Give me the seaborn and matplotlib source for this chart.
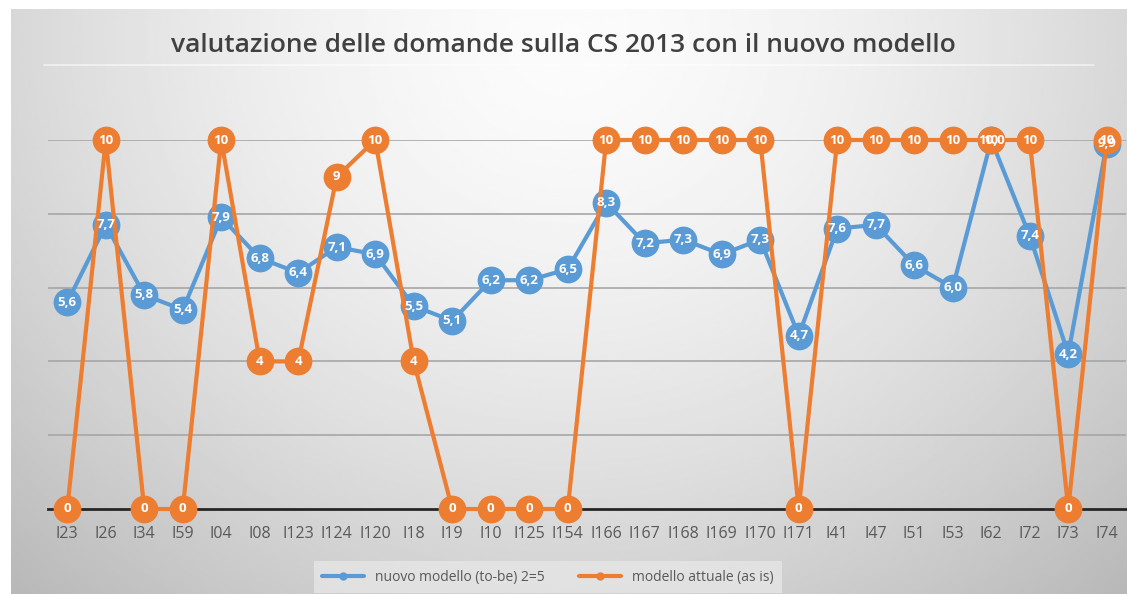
import numpy as np
import pandas as pd
import matplotlib
matplotlib.use("Agg")
import matplotlib.pyplot as plt
import seaborn as sns

categories = ["I23", "I26", "I34", "I59", "I04", "I08", "I123", "I124", "I120", "I18",
              "I19", "I10", "I125", "I154", "I166", "I167", "I168", "I169", "I170", "I171",
              "I41", "I47", "I51", "I53", "I62", "I72", "I73", "I74"]
nuovo = [5.6, 7.7, 5.8, 5.4, 7.9, 6.8, 6.4, 7.1, 6.9, 5.5,
         5.1, 6.2, 6.2, 6.5, 8.3, 7.2, 7.3, 6.9, 7.3, 4.7,
         7.6, 7.7, 6.6, 6.0, 10.0, 7.4, 4.2, 9.9]
attuale = [0, 10, 0, 0, 10, 4, 4, 9, 10, 4,
           0, 0, 0, 0, 10, 10, 10, 10, 10, 0,
           10, 10, 10, 10, 10, 10, 0, 10]

label_nuovo = "nuovo modello (to-be) 2=5"
label_attuale = "modello attuale (as is)"
title = "valutazione delle domande sulla CS 2013 con il nuovo modello"

blue = "#5B9BD5"
orange = "#ED7D31"
grey_text = "#595959"

sns.set_style("white")
plt.rcParams["font.family"] = ["Open Sans", "DejaVu Sans"]

df = pd.DataFrame({"cat": categories * 2,
                   "val": nuovo + attuale,
                   "serie": [label_nuovo] * len(categories) + [label_attuale] * len(categories)})

W, H = 1127, 594
fig = plt.figure(figsize=(W / 100, H / 100), dpi=100)
fig.patch.set_facecolor("white")

# gradient panel background
bg = fig.add_axes([11 / W, 0, 1 - 11 / W, (H - 9) / H])
gy, gx = np.mgrid[0:1:300j, 0:1:600j]
r = np.sqrt(((gx - 0.5) / 0.75) ** 2 + ((gy - 0.05) / 1.3) ** 2)
grad = 0.985 - 0.27 * np.clip(r, 0, 1) ** 1.6
bg.imshow(grad, cmap="gray", vmin=0, vmax=1, aspect="auto", extent=[0, 1, 0, 1], origin="upper")
bg.axhline(0.905, xmin=0.03, xmax=0.97, color="white", lw=1.2, alpha=0.6)
bg.set_axis_off()

ax = fig.add_axes([48 / W, (H - 509) / H, 1078 / W, 369 / H])
ax.patch.set_alpha(0)

sns.lineplot(data=df[df.serie == label_nuovo], x="cat", y="val", ax=ax, color=blue,
             lw=3, marker="o", markersize=20, markeredgewidth=0, sort=False,
             label=label_nuovo, clip_on=False, zorder=3)
sns.lineplot(data=df[df.serie == label_attuale], x="cat", y="val", ax=ax, color=orange,
             lw=3, marker="o", markersize=20, markeredgewidth=0, sort=False,
             label=label_attuale, clip_on=False, zorder=4)

for i, v in enumerate(nuovo):
    ax.text(i, v, f"{v:.1f}".replace(".", ","), ha="center", va="center", color="white",
            fontsize=9.5, fontweight="bold", zorder=6, clip_on=False)
for i, v in enumerate(attuale):
    ax.text(i, v, f"{v}", ha="center", va="center", color="white",
            fontsize=9.5, fontweight="bold", zorder=6, clip_on=False)

ax.set_xlim(-0.5, len(categories) - 0.5)
ax.set_ylim(0, 10)
ax.set_yticks([2, 4, 6, 8, 10])
ax.yaxis.grid(True, color="#a6a6a6", lw=1.2)
ax.set_axisbelow(True)
ax.set_yticklabels([])
ax.tick_params(axis="y", length=0)
ax.tick_params(axis="x", length=0, pad=12, labelsize=11.5, labelcolor=grey_text)
for s in ["top", "right", "left"]:
    ax.spines[s].set_visible(False)
ax.spines["bottom"].set_color("#262626")
ax.spines["bottom"].set_linewidth(2)
ax.spines["bottom"].set_zorder(2)
ax.set_xlabel("")
ax.set_ylabel("")

fig.text(0.5, (H - 45) / H, title, ha="center", va="center", fontsize=19,
         fontweight="semibold", color="#404040")

leg = ax.legend(loc="center", bbox_to_anchor=(548 / W, (H - 577) / H),
                bbox_transform=fig.transFigure, ncol=2, frameon=True, fontsize=10,
                markerscale=0.3, handlelength=3.0, columnspacing=2.5, borderpad=0.6,
                fancybox=False)
leg.get_frame().set_facecolor("#e6e6e6")
leg.get_frame().set_edgecolor("none")
for t in leg.get_texts():
    t.set_color(grey_text)

fig.savefig("out.png", dpi=100)
